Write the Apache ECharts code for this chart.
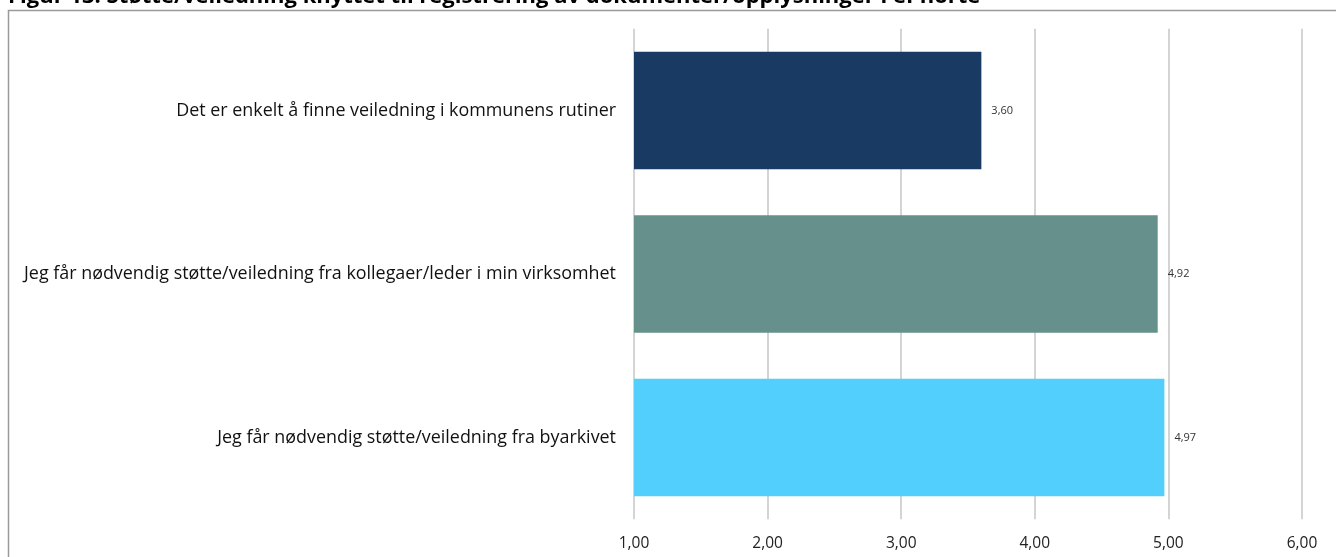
<!DOCTYPE html>
<html>
<head>
<meta charset="utf-8">
<script src="https://cdn.jsdelivr.net/npm/echarts@6/dist/echarts.min.js"></script>
<style>
  html, body { margin: 0; padding: 0; background: #fff; }
  #chart { width: 1336px; height: 557px; }
</style>
</head>
<body>
<div id="chart"></div>
<script>
// Statements shown on the category axis (top to bottom)
const categories = [
  'Det er enkelt å finne veiledning i kommunens rutiner',
  'Jeg får nødvendig støtte/veiledning fra kollegaer/leder i min virksomhet',
  'Jeg får nødvendig støtte/veiledning fra byarkivet'
];
// Mean score per statement
const scores = [3.60, 4.92, 4.97];
// One fill colour per bar
const barColors = ['#193b63', '#66908b', '#53cffe'];
// Value axis ticks
const tickValues = [1, 2, 3, 4, 5, 6];

const titleText = 'Figur 13: Støtte/veiledning knyttet til registrering av dokumenter/opplysninger i ePhorte';
const fmt = v => v.toFixed(2).replace('.', ',');
const fontFamily = '"Open Sans", "Noto Sans", sans-serif';

const chart = echarts.init(document.getElementById('chart'), null, { renderer: 'canvas' });

chart.setOption({
  animation: false,
  graphic: [
    {
      type: 'rect',
      shape: { x: 8.5, y: 10.5, width: 1340, height: 560 },
      style: { fill: 'none', stroke: '#9a9a9a', lineWidth: 1.5 },
      z: -1
    },
    {
      type: 'text',
      left: 8, top: -14,
      style: { text: titleText, fill: '#000', font: 'bold 22px ' + fontFamily }
    }
  ],
  grid: { left: 634, right: 34, top: 28.75, bottom: 37.75, containLabel: false },
  xAxis: {
    type: 'value',
    min: tickValues[0],
    max: tickValues[tickValues.length - 1],
    interval: 1,
    axisLine: { show: false },
    axisTick: { show: false },
    axisLabel: {
      formatter: fmt,
      color: '#222',
      fontSize: 15.5,
      fontFamily: fontFamily,
      margin: 16
    },
    splitLine: { show: true, lineStyle: { color: '#d4d4d4', width: 2 } }
  },
  yAxis: {
    type: 'category',
    data: categories,
    inverse: true,
    axisLine: { show: false },
    axisTick: { show: false },
    axisLabel: {
      color: '#111',
      fontSize: 17.9,
      fontFamily: fontFamily,
      margin: 18
    }
  },
  series: [{
    type: 'bar',
    data: scores.map((v, i) => ({ value: v, itemStyle: { color: barColors[i] } })),
    barCategoryGap: '28%',
    label: {
      show: true,
      position: 'right',
      distance: 10,
      formatter: p => fmt(p.value),
      color: '#333',
      fontSize: 11,
      fontFamily: fontFamily
    }
  }]
});
</script>
</body>
</html>
